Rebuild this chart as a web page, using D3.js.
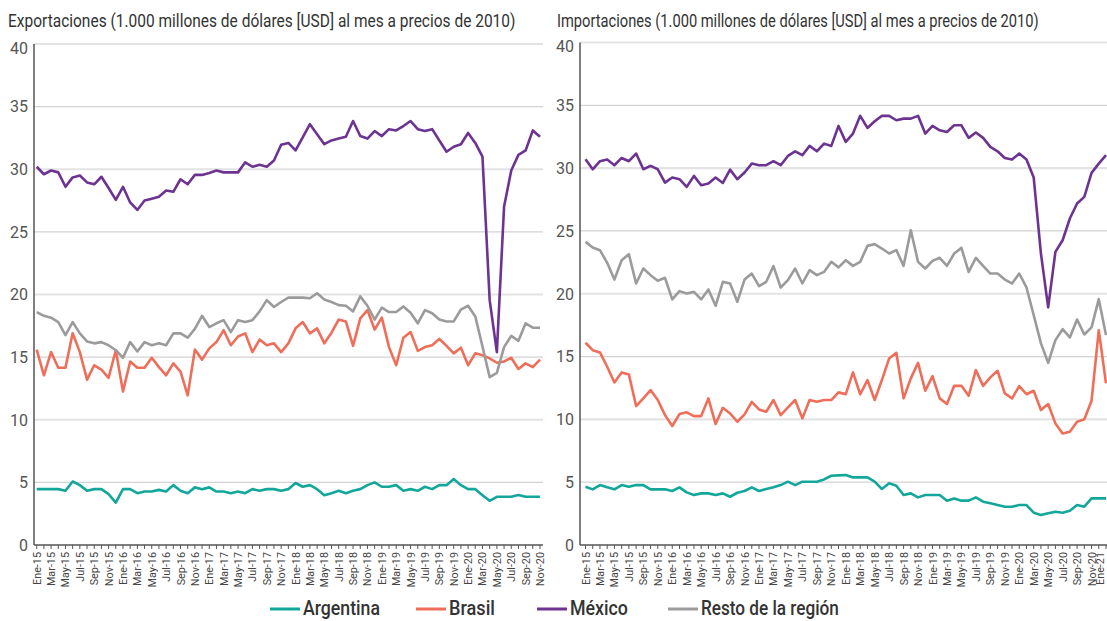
<!DOCTYPE html>
<html>
<head>
<meta charset="utf-8">
<script src="https://cdn.jsdelivr.net/npm/d3@7"></script>
<style>
  html, body { margin: 0; padding: 0; background: #fff; }
  svg { display: block; font-family: Roboto, "Noto Sans", sans-serif; }
</style>
</head>
<body>
<script>
// ---------- DATA ----------
const exportLabels = ["Ene-15","Mar-15","May-15","Jul-15","Sep-15","Nov-15","Ene-16","Mar-16","May-16","Jul-16","Sep-16","Nov-16","Ene-17","Mar-17","May-17","Jul-17","Sep-17","Nov-17","Ene-18","Mar-18","May-18","Jul-18","Sep-18","Nov-18","Ene-19","Mar-19","May-19","Jul-19","Sep-19","Nov-19","Ene-20","Mar-20","May-20","Jul-20","Sep-20","Nov-20"];
const importLabels = ["Ene-15","Mar-15","May-15","Jul-15","Sep-15","Nov-15","Ene-16","Mar-16","May-16","Jul-16","Sep-16","Nov-16","Ene-17","Mar-17","May-17","Jul-17","Sep-17","Nov-17","Ene-18","Mar-18","May-18","Jul-18","Sep-18","Nov-18","Ene-19","Mar-19","May-19","Jul-19","Sep-19","Nov-19","Ene-20","Mar-20","May-20","Jul-20","Sep-20","Nov-20","Ene-21"];
const yTicks = [0,5,10,15,20,25,30,35,40];

// Exports, monthly Jan-2015 .. Nov-2020
const expArgentina = [4.46,4.46,4.46,4.46,4.33,5.07,4.78,4.33,4.46,4.46,
  4.06,3.39,4.46,4.46,4.14,4.27,4.27,4.4,4.27,4.78,
  4.33,4.14,4.6,4.46,4.6,4.27,4.27,4.14,4.27,4.14,
  4.46,4.33,4.46,4.46,4.33,4.46,4.95,4.65,4.78,4.46,
  3.98,4.14,4.33,4.14,4.33,4.46,4.78,5.0,4.65,4.65,
  4.78,4.33,4.46,4.33,4.65,4.46,4.78,4.78,5.26,4.78,
  4.46,4.46,3.98,3.53,3.85,3.85,3.85,4.0,3.85,3.85,3.85];
const expBrasil = [15.6,13.55,15.4,14.15,14.15,16.9,15.4,13.2,14.35,14.0,
  13.35,15.55,12.25,14.65,14.15,14.15,14.95,14.2,13.55,14.5,
  13.85,11.95,15.6,14.8,15.7,16.2,17.15,15.95,16.65,16.9,
  15.4,16.4,15.95,16.1,15.4,16.1,17.3,17.8,16.9,17.3,
  16.1,16.95,18.0,17.85,15.9,18.1,18.75,17.2,18.15,15.8,
  14.35,16.55,17.0,15.5,15.8,15.95,16.45,15.9,15.3,15.75,
  14.35,15.3,15.15,14.9,14.55,14.65,14.95,14.05,14.5,14.2,14.8];
const expMexico = [30.2,29.6,29.9,29.75,28.6,29.35,29.5,28.95,28.8,29.4,
  28.5,27.55,28.6,27.35,26.75,27.5,27.65,27.8,28.3,28.2,
  29.2,28.8,29.55,29.55,29.7,29.9,29.75,29.75,29.75,30.55,
  30.2,30.35,30.2,30.7,31.95,32.1,31.5,32.55,33.6,32.8,
  32.0,32.3,32.45,32.6,33.85,32.65,32.45,33.05,32.65,33.2,
  33.1,33.45,33.85,33.2,33.05,33.2,32.3,31.4,31.8,32.0,
  32.9,32.1,31.0,19.55,15.4,27.0,29.9,31.15,31.5,33.1,32.6];
const expResto = [18.6,18.3,18.15,17.8,16.75,17.8,16.9,16.25,16.1,16.2,
  15.95,15.55,14.95,16.2,15.45,16.2,15.95,16.1,15.95,16.9,
  16.9,16.55,17.25,18.3,17.4,17.7,17.95,17.0,17.95,17.8,
  17.95,18.65,19.55,19.0,19.4,19.75,19.75,19.75,19.7,20.1,
  19.6,19.4,19.15,19.1,18.65,19.85,19.1,18.0,18.95,18.6,
  18.6,19.05,18.55,17.7,18.75,18.5,18.0,17.85,17.85,18.8,
  19.1,18.25,15.85,13.4,13.75,15.8,16.7,16.3,17.7,17.35,17.35];

// Imports, monthly Jan-2015 .. Jan-2021
const impArgentina = [4.64,4.43,4.77,4.59,4.43,4.77,4.64,4.77,4.77,4.43,
  4.43,4.43,4.3,4.59,4.19,3.98,4.11,4.11,3.98,4.11,
  3.84,4.16,4.3,4.59,4.3,4.46,4.59,4.77,5.04,4.77,
  5.04,5.04,5.04,5.22,5.51,5.54,5.57,5.38,5.38,5.38,
  5.04,4.46,4.91,4.72,3.98,4.11,3.79,3.98,3.98,3.98,
  3.53,3.71,3.53,3.53,3.79,3.45,3.32,3.18,3.05,3.05,
  3.18,3.18,2.57,2.39,2.52,2.65,2.57,2.73,3.18,3.05,
  3.71,3.71,3.71];
const impBrasil = [16.1,15.51,15.33,14.19,12.94,13.74,13.58,11.06,11.67,12.33,
  11.54,10.34,9.47,10.42,10.56,10.26,10.26,11.67,9.63,10.92,
  10.47,9.81,10.4,11.4,10.79,10.61,11.54,10.34,10.95,11.54,
  10.08,11.54,11.4,11.54,11.54,12.15,12.01,13.74,12.0,13.13,
  11.54,13.13,14.85,15.3,11.67,13.26,14.5,12.28,13.44,11.67,
  11.22,12.67,12.67,11.88,13.92,12.67,13.34,13.87,12.07,11.67,
  12.65,12.0,12.28,10.74,11.22,9.68,8.88,9.02,9.81,10.0,
  11.48,17.1,12.86];
const impMexico = [30.71,29.91,30.55,30.68,30.23,30.81,30.55,31.16,29.91,30.18,
  29.91,28.85,29.25,29.12,28.51,29.38,28.64,28.77,29.25,28.82,
  29.88,29.12,29.65,30.36,30.23,30.23,30.55,30.23,30.97,31.34,
  31.03,31.77,31.34,31.95,31.77,33.36,32.09,32.75,34.16,33.2,
  33.73,34.16,34.16,33.81,33.94,33.94,34.16,32.75,33.36,33.01,
  32.88,33.41,33.41,32.41,32.83,32.41,31.69,31.34,30.81,30.68,
  31.16,30.68,29.25,23.2,18.91,23.33,24.26,25.99,27.18,27.71,
  29.62,30.36,31.03];
const impResto = [24.13,23.68,23.47,22.46,21.13,22.67,23.15,20.82,22.01,21.48,
  21.03,21.27,19.55,20.21,20.02,20.15,19.55,20.34,19.04,20.95,
  20.82,19.36,21.13,21.61,20.6,20.95,22.2,20.5,21.08,22.01,
  20.82,21.88,21.48,21.74,22.54,22.1,22.67,22.22,22.54,23.81,
  23.95,23.6,23.2,23.47,22.22,25.06,22.54,22.01,22.62,22.86,
  22.22,23.2,23.65,21.74,22.86,22.22,21.61,21.61,21.13,20.82,
  21.61,20.5,18.3,16.05,14.5,16.31,17.18,16.52,17.95,16.76,
  17.32,19.57,16.71];

const seriesNames = ["Argentina","Brasil","México","Resto de la región"];
const colors = {"Argentina":"#13a79b","Brasil":"#ee6e59","México":"#6d3390","Resto de la región":"#9b9b9b"};

// ---------- DRAW ----------
const W = 1107, H = 621;
const svg = d3.select("body").append("svg").attr("width", W).attr("height", H);

// condensed text: measure natural width, then squeeze horizontally with a transform
function condensedText(parent, str, x, y, targetW, attrs) {
  const t = parent.append("text").attr("x", 0).attr("y", 0).text(str);
  Object.entries(attrs).forEach(([k, v]) => t.attr(k, v));
  const nat = t.node().getComputedTextLength();
  const s = nat > 0 ? targetW / nat : 1;
  t.attr("transform", `translate(${x},${y}) scale(${s},1)`);
  return t;
}

function panel(cfg) {
  const g = svg.append("g");
  const n = cfg.series[0].values.length;
  const x = d3.scaleLinear().domain([0, n - 1]).range([cfg.x0, cfg.x1]);
  const y = d3.scaleLinear().domain([0, 40]).range(cfg.yRange);

  // title
  condensedText(g, cfg.title, cfg.titleX, 27, cfg.titleLen,
    {"font-size": 17.5, "fill": "#333"});

  // grid
  g.selectAll(".grid").data(yTicks.filter(v => v > 0)).join("line")
    .attr("x1", cfg.axisX).attr("x2", cfg.gridEnd)
    .attr("y1", d => y(d)).attr("y2", d => y(d))
    .attr("stroke", d => d % 10 === 0 ? "#e3e3e3" : "#d3d3d3")
    .attr("stroke-width", d => d % 10 === 0 ? 2.2 : 1.2);

  // y labels
  g.selectAll(".yl").data(yTicks).join("text")
    .attr("x", cfg.axisX - 6).attr("y", d => y(d)).attr("dy", d => d === 40 ? "0.62em" : "0.36em")
    .attr("text-anchor", "end").attr("font-size", 16).attr("fill", "#555")
    .text(d => d);

  // series lines
  const line = d3.line().x((d, i) => x(i)).y(d => y(d));
  cfg.series.forEach(s => {
    g.append("path").attr("d", line(s.values))
      .attr("fill", "none").attr("stroke", colors[s.name])
      .attr("stroke-width", 2.6).attr("stroke-linejoin", "round");
  });

  // axes
  g.append("line").attr("x1", cfg.axisX).attr("x2", cfg.axisX)
    .attr("y1", y(40)).attr("y2", y(0)).attr("stroke", "#555").attr("stroke-width", 1.5);
  g.append("line").attr("x1", cfg.axisX).attr("x2", cfg.gridEnd)
    .attr("y1", y(0)).attr("y2", y(0)).attr("stroke", "#555").attr("stroke-width", 1.3);
  g.selectAll(".tk").data(d3.range(n)).join("line")
    .attr("x1", i => x(i)).attr("x2", i => x(i))
    .attr("y1", y(0)).attr("y2", y(0) + 4).attr("stroke", "#555").attr("stroke-width", 1);

  // x labels (every two months)
  g.selectAll(".xl").data(cfg.labels).join("text")
    .attr("transform", (d, k) => `translate(${Math.min(x(k * 2) + 4, W - 3)},${y(0) + 7}) rotate(-90)`)
    .attr("text-anchor", "end").attr("font-size", 10.8).attr("fill", "#444")
    .text(d => d);
}

panel({
  x0: 36.7, x1: 540, axisX: 34, gridEnd: 543, yRange: [545, 44],
  title: "Exportaciones (1.000 millones de dólares [USD] al mes a precios de 2010)",
  titleX: 8, titleLen: 508, labels: exportLabels,
  series: [
    {name: "Argentina", values: expArgentina},
    {name: "Brasil", values: expBrasil},
    {name: "Resto de la región", values: expResto},
    {name: "México", values: expMexico}
  ]
});

panel({
  x0: 585.5, x1: 1106, axisX: 580, gridEnd: 1112, yRange: [545, 42.5],
  title: "Importaciones (1.000 millones de dólares [USD] al mes a precios de 2010)",
  titleX: 557, titleLen: 482, labels: importLabels,
  series: [
    {name: "Argentina", values: impArgentina},
    {name: "Brasil", values: impBrasil},
    {name: "Resto de la región", values: impResto},
    {name: "México", values: impMexico}
  ]
});

// legend
const legendPos = [
  {name: "Argentina", x: 270, w: 77},
  {name: "Brasil", x: 416, w: 46},
  {name: "México", x: 537, w: 58},
  {name: "Resto de la región", x: 668, w: 138}
];
const lg = svg.append("g");
legendPos.forEach(d => {
  lg.append("line").attr("x1", d.x).attr("x2", d.x + 30).attr("y1", 609).attr("y2", 609)
    .attr("stroke", colors[d.name]).attr("stroke-width", 3);
  condensedText(lg, d.name, d.x + 33, 615, d.w,
    {"font-size": 20, "font-weight": 500, "fill": "#333"});
});
</script>
</body>
</html>
